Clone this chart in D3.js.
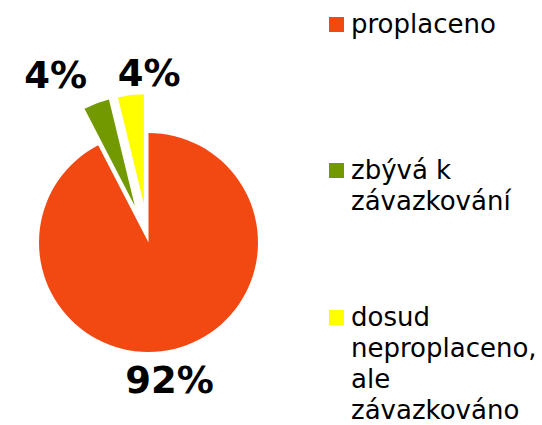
<!DOCTYPE html>
<html>
<head>
<meta charset="utf-8">
<script src="https://cdn.jsdelivr.net/npm/d3@7"></script>
<style>
  body { margin: 0; background: #fff; }
  svg { display: block; font-family: "DejaVu Sans", Verdana, sans-serif; }
</style>
</head>
<body>
<svg width="542" height="425"></svg>
<script>
var categories = ["proplaceno", "zbývá k závazkování", "dosud neproplaceno, ale závazkováno"];
var values = [92.4, 3.8, 3.8];
var valueLabels = ["92%", "4%", "4%"];
var colors = ["#F24912", "#729A00", "#FFFF00"];

var svg = d3.select("svg"),
    cx = 148.5, cy = 242.5,
    radius = 109.5,
    explode = [0, 39, 39],
    labelR = [140, 179, 179],
    labelNudge = [[-12, 2], [-30, 0], [22, 8]];

var pie = d3.pie().sort(null).value(function(d) { return d; });
var arc = d3.arc().innerRadius(0).outerRadius(radius);
var arcs = pie(values);

function dir(d) {
  var a = (d.startAngle + d.endAngle) / 2;
  return [Math.sin(a), -Math.cos(a)];
}

var g = svg.append("g").attr("transform", "translate(" + cx + "," + cy + ")");

g.selectAll("path")
  .data(arcs)
  .enter().append("path")
    .attr("d", arc)
    .attr("fill", function(d, i) { return colors[i]; })
    .attr("transform", function(d, i) {
      var v = dir(d);
      return "translate(" + v[0] * explode[i] + "," + v[1] * explode[i] + ")";
    });

g.selectAll("text.val")
  .data(arcs)
  .enter().append("text")
    .attr("class", "val")
    .attr("x", function(d, i) { return dir(d)[0] * labelR[i] + labelNudge[i][0]; })
    .attr("y", function(d, i) { return dir(d)[1] * labelR[i] + labelNudge[i][1]; })
    .attr("dy", "0.35em")
    .attr("text-anchor", "middle")
    .style("font-size", "37px")
    .style("font-weight", "bold")
    .attr("fill", "#000")
    .text(function(d, i) { return valueLabels[i]; });

// legend
var legendX = 329, legendTops = [33, 179, 326], lineH = 31, maxW = 190;

var item = svg.selectAll(".legend")
  .data(categories)
  .enter().append("g")
    .attr("class", "legend")
    .attr("transform", function(d, i) { return "translate(" + legendX + "," + legendTops[i] + ")"; });

item.append("rect")
    .attr("x", 0)
    .attr("y", -16)
    .attr("width", 15)
    .attr("height", 15)
    .attr("fill", function(d, i) { return colors[i]; });

item.append("text")
    .attr("x", 22)
    .attr("y", 0)
    .style("font-size", "26px")
    .attr("fill", "#000")
    .each(function(d) {
      var text = d3.select(this),
          words = d.split(" "),
          line = [],
          n = 0,
          tspan = text.append("tspan").attr("x", 22).attr("y", 0);
      words.forEach(function(w) {
        line.push(w);
        tspan.text(line.join(" "));
        if (tspan.node().getComputedTextLength() > maxW && line.length > 1) {
          line.pop();
          tspan.text(line.join(" "));
          line = [w];
          n++;
          tspan = text.append("tspan").attr("x", 22).attr("y", n * lineH).text(w);
        }
      });
    });
</script>
</body>
</html>
